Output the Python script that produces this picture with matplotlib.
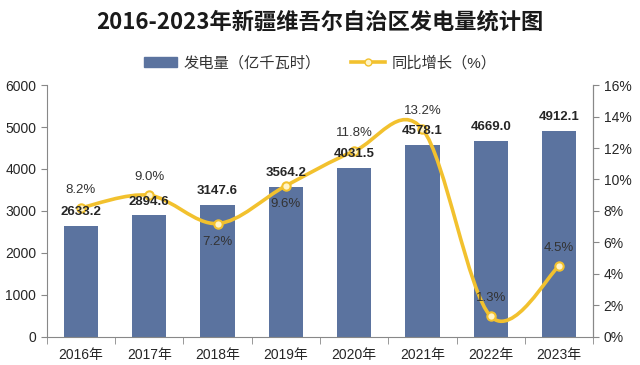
import matplotlib
matplotlib.use('Agg')
import matplotlib.pyplot as plt
import numpy as np
from matplotlib.path import Path
from matplotlib.patches import PathPatch, Patch
from matplotlib.lines import Line2D
from matplotlib.ticker import FuncFormatter

plt.rcParams['font.family'] = ['Liberation Sans', 'Noto Sans CJK SC']

years = ['2016年', '2017年', '2018年', '2019年', '2020年', '2021年', '2022年', '2023年']
power = [2633.2, 2894.6, 3147.6, 3564.2, 4031.5, 4578.1, 4669.0, 4912.1]
growth = [8.2, 9.0, 7.2, 9.6, 11.8, 13.2, 1.3, 4.5]
# label above (+1) or below (-1) the point
growth_side = [1, 1, -1, -1, 1, 1, 1, 1]

bar_color = '#5B739F'
line_color = '#F2C12E'
txt = '#262626'

fig = plt.figure(figsize=(6.4, 3.65), dpi=100)
ax = fig.add_axes([0.073, 0.077, 0.854, 0.69])
x = np.arange(len(years))

ax.bar(x, power, width=0.5, color=bar_color, zorder=2)
ax.set_xlim(-0.5, len(years) - 0.5)
ax.set_ylim(0, 6000)
ax.set_yticks(range(0, 6001, 1000))
ax.set_xticks(x)
ax.set_xticklabels(years, fontsize=10, color=txt)
ax.set_xticks(np.arange(-0.5, len(years), 1), minor=True)
ax.tick_params(axis='x', which='major', length=0, pad=8)
ax.tick_params(axis='x', which='minor', length=5, color='#888888')
ax.tick_params(axis='y', labelsize=10, labelcolor=txt, length=4, color='#888888')
for s in ['top']:
    ax.spines[s].set_visible(False)
for s in ['left', 'bottom', 'right']:
    ax.spines[s].set_color('#888888')

ax2 = ax.twinx()
ax2.set_ylim(0, 16)
ax2.set_yticks(range(0, 17, 2))
ax2.yaxis.set_major_formatter(FuncFormatter(lambda v, p: '%d%%' % v))
ax2.tick_params(axis='y', labelsize=10, labelcolor=txt, length=4, color='#888888')
ax2.spines['top'].set_visible(False)
ax2.spines['right'].set_color('#888888')
ax2.spines['left'].set_visible(False)
ax2.spines['bottom'].set_visible(False)

# smoothed line (Catmull-Rom style bezier through the points)
pts = np.column_stack([x, growth]).astype(float)
verts = [pts[0]]
codes = [Path.MOVETO]
n = len(pts)
for i in range(n - 1):
    p0 = pts[max(i - 1, 0)]
    p1 = pts[i]
    p2 = pts[i + 1]
    p3 = pts[min(i + 2, n - 1)]
    c1 = p1 + (p2 - p0) / 6.0
    c2 = p2 - (p3 - p1) / 6.0
    verts += [c1, c2, p2]
    codes += [Path.CURVE4] * 3
ax2.add_patch(PathPatch(Path(verts, codes), fill=False, edgecolor=line_color,
                        lw=2.6, zorder=3, capstyle='round'))
ax2.plot(x, growth, 'o', ls='none', ms=6, mfc='#FFF4C8', mec=line_color,
         mew=1.5, zorder=4)

for xi, g, side in zip(x, growth, growth_side):
    ax2.annotate('%.1f%%' % g, (xi, g), xytext=(0, 13 * side),
                 textcoords='offset points', ha='center', va='center',
                 fontsize=9.5, color='#333333', zorder=6)

for xi, v in zip(x, power):
    ax2.annotate('%.1f' % v, (xi, v), xycoords=ax.transData, xytext=(0, 10),
                 textcoords='offset points', ha='center', va='center',
                 fontsize=9.5, fontweight='bold', color=txt, zorder=6)

fig.text(0.5, 0.94, '2016-2023年新疆维吾尔自治区发电量统计图', ha='center',
         va='center', fontsize=16, fontweight='bold', color='#1a1a1a',
         family=['Noto Sans CJK SC'])

handles = [Patch(color=bar_color),
           Line2D([0], [0], color=line_color, lw=2.6, marker='o', ms=5,
                  mfc='#FFF4C8', mec=line_color)]
fig.legend(handles, ['发电量（亿千瓦时）', '同比增长（%）'], loc='center',
           bbox_to_anchor=(0.5, 0.827), ncol=2, frameon=False, fontsize=11,
           handlelength=2.2, columnspacing=2.0, handletextpad=0.4,
           labelcolor='#333333')

fig.savefig('out.png', dpi=100, facecolor='white')
